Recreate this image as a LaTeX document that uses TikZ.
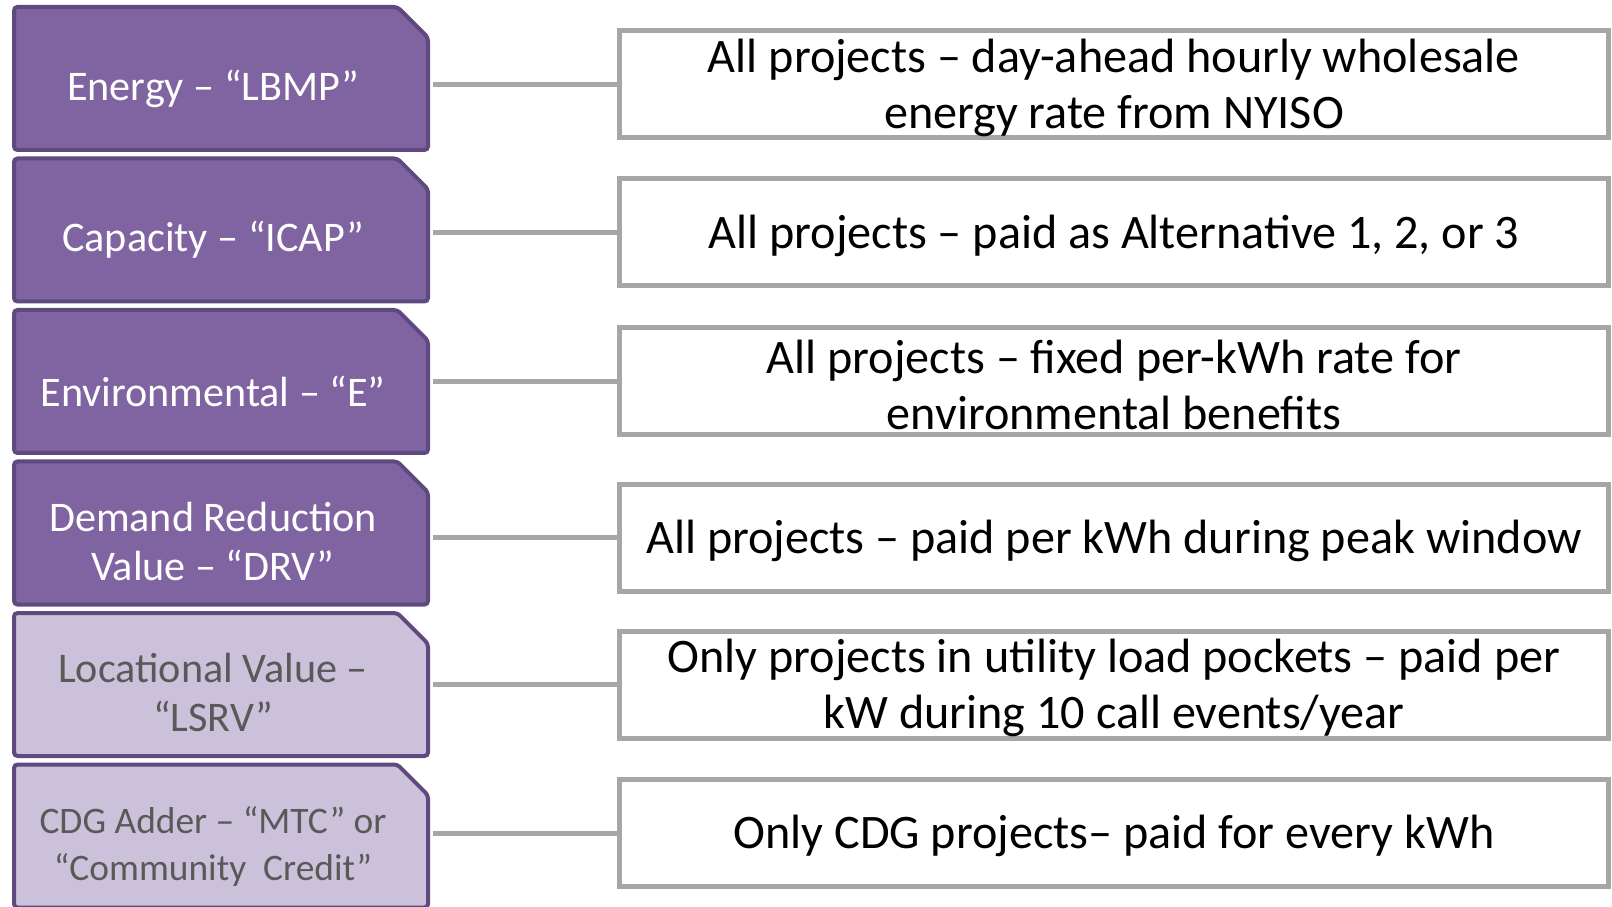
\documentclass[tikz,border=0pt]{standalone}
\usepackage{fontspec}
\setmainfont{Carlito}
\usepackage{xcolor}
\usetikzlibrary{positioning,shapes.misc}
\definecolor{purplefill}{HTML}{8064A2}
\definecolor{purpleedge}{HTML}{5E4A7E}
\definecolor{lilacfill}{HTML}{CCC1DA}
\definecolor{greytext}{HTML}{595959}
\definecolor{greyline}{HTML}{A6A6A6}

\begin{document}
\begin{tikzpicture}[node distance=0.17cm and 3.83cm,
    drop/.style={execute at begin node={\rule{0pt}{#1}}},
    value/.style={chamfered rectangle,chamfered rectangle corners=north east,chamfered rectangle xsep=0.5cm,
      draw=purpleedge,line width=0.08cm,rounded corners=2pt,minimum width=8.28cm,minimum height=2.86cm,
      inner sep=0pt,outer sep=0pt,align=center,font=\fontsize{24}{27.8}\selectfont,
      drop=1.01cm,execute at end node={\kern0.32cm}},
    mainvalue/.style={value,fill=purplefill,text=white},
    extravalue/.style={value,fill=lilacfill,text=greytext},
    note/.style={draw=greyline,line width=0.1cm,minimum width=19.78cm,minimum height=2.14cm,
      inner sep=0pt,outer sep=0pt,align=center,font=\fontsize{27.4}{32}\selectfont,drop=0.8cm},
    link/.style={draw=greyline,line width=0.1cm,shorten <=0.1cm}]
    \useasboundingbox (0,0) rectangle (32.24,-18.14);
    % value stack on the left
    \node[mainvalue,anchor=north west] (lbmp) at (0.28,-0.14) {Energy – “LBMP”};
    \node[mainvalue,below=of lbmp] (icap) {Capacity – “ICAP”};
    \node[mainvalue,below=of icap] (env) {Environmental – “E”};
    \node[mainvalue,below=of env,drop=1.89cm] (drv) {Demand Reduction\\Value – “DRV”};
    \node[extravalue,below=of drv,drop=1.89cm] (lsrv) {Locational Value –\\“LSRV”};
    \node[extravalue,below=of lsrv,drop=1.89cm,font=\fontsize{21.3}{26.8}\selectfont] (cdg) {CDG Adder – “MTC” or\\“Community~~Credit”};
    % who gets paid, and how
    \node[note,right=of lbmp,yshift=-0.12cm,drop=1.93cm] (lbmpnote) {All projects – day-ahead hourly wholesale\\energy rate from NYISO};
    \node[note,right=of icap,yshift=-0.05cm] (icapnote) {All projects – paid as Alternative 1, 2, or 3};
    \node[note,right=of env,drop=1.93cm] (envnote) {All projects – fixed per-kWh rate for\\environmental benefits};
    \node[note,right=of drv,yshift=-0.1cm] (drvnote) {All projects – paid per kWh during peak window};
    \node[note,right=of lsrv,drop=1.93cm] (lsrvnote) {Only projects in utility load pockets – paid per\\kW during 10 call events/year};
    \node[note,right=of cdg,yshift=0.06cm] (cdgnote) {Only CDG projects– paid for every kWh};
    \draw[link] (lbmpnote.west -| lbmp.east) -- (lbmpnote.west);
    \draw[link] (icapnote.west -| icap.east) -- (icapnote.west);
    \draw[link] (envnote.west -| env.east) -- (envnote.west);
    \draw[link] (drvnote.west -| drv.east) -- (drvnote.west);
    \draw[link] (lsrvnote.west -| lsrv.east) -- (lsrvnote.west);
    \draw[link] (cdgnote.west -| cdg.east) -- (cdgnote.west);
\end{tikzpicture}
\end{document}
